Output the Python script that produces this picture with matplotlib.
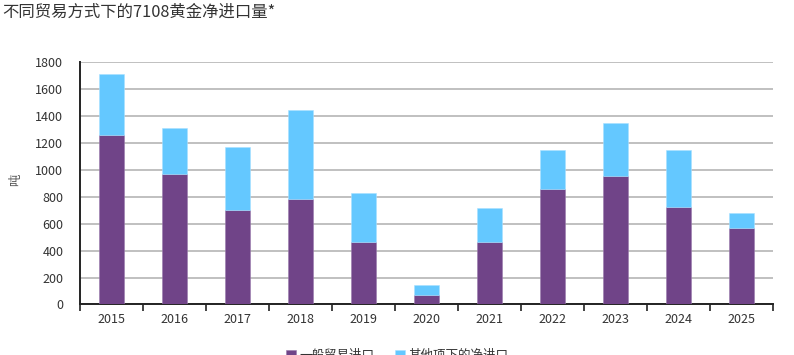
import matplotlib
matplotlib.use("Agg")
import matplotlib.pyplot as plt
import numpy as np

plt.rcParams['font.family'] = ['Noto Sans CJK SC', 'DejaVu Sans']

years = ['2015', '2016', '2017', '2018', '2019', '2020', '2021', '2022', '2023', '2024', '2025']
general_trade = [1260, 965, 705, 783, 463, 74, 464, 856, 957, 727, 568]
other_net = [448, 344, 465, 663, 368, 70, 250, 292, 387, 421, 111]

title = '不同贸易方式下的7108黄金净进口量*'
ylabel = '吨'
series_names = ['一般贸易进口', '其他项下的净进口']
yticks = [0, 200, 400, 600, 800, 1000, 1200, 1400, 1600, 1800]

purple = '#704488'
blue = '#64C8FF'

fig = plt.figure(figsize=(7.94, 3.55), dpi=100)
ax = fig.add_axes([0.1008, 0.1423, 0.8728, 0.6831])

x = np.arange(len(years))
w = 0.41
ax.bar(x, general_trade, width=w, color=purple, edgecolor='#9a7aac', linewidth=0.4,
       label=series_names[0], zorder=3)
ax.bar(x, other_net, width=w, bottom=general_trade, color=blue, edgecolor='#a8e0ff',
       linewidth=0.4, label=series_names[1], zorder=3)

ax.set_xlim(-0.5, len(years) - 0.5)
ax.set_ylim(0, 1800)
ax.set_yticks(yticks)
ax.set_yticklabels([str(v) for v in yticks])
ax.yaxis.grid(True, color='#bbbbbb', linewidth=1.3, zorder=0)
ax.set_axisbelow(True)

ax.set_xticks(x)
ax.set_xticklabels(years)
ax.set_xticks(np.arange(-0.5, len(years), 1.0), minor=True)
ax.tick_params(axis='x', which='major', length=0, pad=6, labelsize=9, labelcolor='#333333')
ax.tick_params(axis='x', which='minor', length=5, width=1.2, direction='out', color='#222222')
ax.tick_params(axis='y', length=0, pad=12, labelsize=9, labelcolor='#333333')

for s in ['top', 'right']:
    ax.spines[s].set_visible(False)
ax.spines['left'].set_color('#222222')
ax.spines['left'].set_linewidth(1.4)
ax.spines['bottom'].set_color('#222222')
ax.spines['bottom'].set_linewidth(1.4)

ax.set_ylabel(ylabel, fontsize=9, color='#555555')
ax.yaxis.set_label_coords(-0.084, 0.513)

fig.text(0.003, 0.965, title, fontsize=11.8, color='#333333', ha='left', va='center')

leg = fig.legend(loc='center', bbox_to_anchor=(0.5, -0.002), ncol=2, frameon=False,
                 fontsize=9, handlelength=0.8, handleheight=0.8, handletextpad=0.3,
                 columnspacing=1.6)
for t in leg.get_texts():
    t.set_color('#333333')

fig.savefig('out.png', dpi=100)
